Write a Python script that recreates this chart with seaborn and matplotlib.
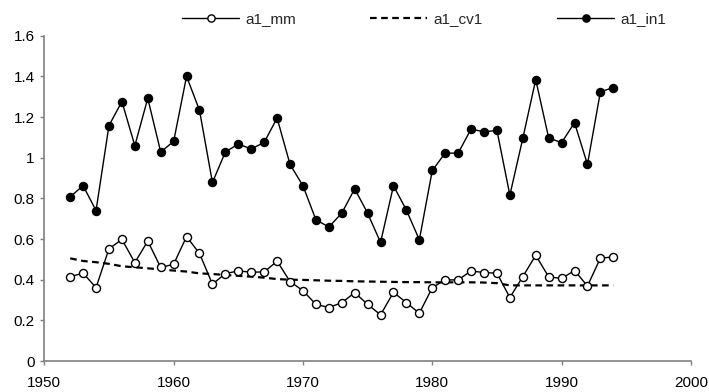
import numpy as np
import pandas as pd
import matplotlib
matplotlib.use("Agg")
import matplotlib.pyplot as plt
from matplotlib.ticker import FuncFormatter, MultipleLocator
import seaborn as sns

years = list(range(1952, 1995))

a1_mm = [0.415, 0.432, 0.361, 0.552, 0.598, 0.484, 0.590, 0.460, 0.476, 0.612,
         0.529, 0.378, 0.430, 0.443, 0.437, 0.438, 0.491, 0.391, 0.346, 0.279,
         0.263, 0.287, 0.336, 0.279, 0.227, 0.338, 0.287, 0.235, 0.361, 0.399,
         0.399, 0.443, 0.435, 0.432, 0.312, 0.415, 0.520, 0.414, 0.406, 0.445,
         0.369, 0.506, 0.512]

a1_cv1 = [0.505, 0.492, 0.486, 0.478, 0.466, 0.461, 0.456, 0.450, 0.445, 0.440,
          0.431, 0.428, 0.423, 0.419, 0.415, 0.410, 0.403, 0.400, 0.399, 0.397,
          0.395, 0.394, 0.392, 0.391, 0.390, 0.389, 0.388, 0.388, 0.387, 0.387,
          0.387, 0.387, 0.386, 0.383, 0.372, 0.372, 0.372, 0.372, 0.372, 0.372,
          0.372, 0.372, 0.372]

a1_in1 = [0.808, 0.862, 0.740, 1.158, 1.276, 1.059, 1.292, 1.028, 1.080, 1.400,
          1.233, 0.878, 1.028, 1.067, 1.043, 1.075, 1.195, 0.967, 0.862, 0.695,
          0.659, 0.727, 0.847, 0.727, 0.583, 0.862, 0.742, 0.596, 0.937, 1.023,
          1.022, 1.141, 1.127, 1.134, 0.816, 1.095, 1.384, 1.097, 1.074, 1.172,
          0.967, 1.324, 1.345]

df = pd.DataFrame({"year": years, "a1_mm": a1_mm, "a1_cv1": a1_cv1, "a1_in1": a1_in1})

sns.set_style("white")
plt.rcParams["font.family"] = ["Liberation Sans", "DejaVu Sans"]

fig = plt.figure(figsize=(7.09, 3.92), dpi=100)
ax = fig.add_axes([0.0625, 0.079, 0.912, 0.830])

sns.lineplot(data=df, x="year", y="a1_cv1", ax=ax, color="black",
             linewidth=1.6, label="a1_cv1")
h_cv = ax.lines[-1]
h_cv.set_linestyle((0, (3, 2)))

sns.lineplot(data=df, x="year", y="a1_mm", ax=ax, color="black", linewidth=1.0,
             marker="o", markersize=5.8, markerfacecolor="white",
             markeredgecolor="black", markeredgewidth=1.0, label="a1_mm")
h_mm = ax.lines[-1]

sns.lineplot(data=df, x="year", y="a1_in1", ax=ax, color="black", linewidth=1.0,
             marker="o", markersize=5.8, markerfacecolor="black",
             markeredgecolor="black", markeredgewidth=1.0, label="a1_in1")
h_in = ax.lines[-1]

ax.set_xlim(1950, 2000)
ax.set_ylim(0, 1.6)
ax.xaxis.set_major_locator(MultipleLocator(10))
ax.yaxis.set_major_locator(MultipleLocator(0.2))
ax.yaxis.set_major_formatter(FuncFormatter(lambda v, p: f"{v:g}"))
ax.set_xlabel("")
ax.set_ylabel("")

for side in ("top", "right"):
    ax.spines[side].set_visible(False)
for side in ("left", "bottom"):
    ax.spines[side].set_color("#808080")
    ax.spines[side].set_linewidth(1.2)

ax.tick_params(axis="both", which="major", direction="out", length=3,
               width=1, color="#808080", labelsize=11, labelcolor="black")
ax.tick_params(axis="x", pad=8)
ax.tick_params(axis="y", pad=4)
ax.tick_params(left=True, bottom=True)

ax.get_legend().remove()
fig.legend([h_mm, h_cv, h_in], ["a1_mm", "a1_cv1", "a1_in1"],
           loc="center", bbox_to_anchor=(424 / 709, 1 - 19 / 392),
           ncol=3, frameon=False, fontsize=11, handlelength=3.7,
           handletextpad=0.4, columnspacing=4.9, markerscale=0.9)

fig.savefig("out.png", dpi=100)
